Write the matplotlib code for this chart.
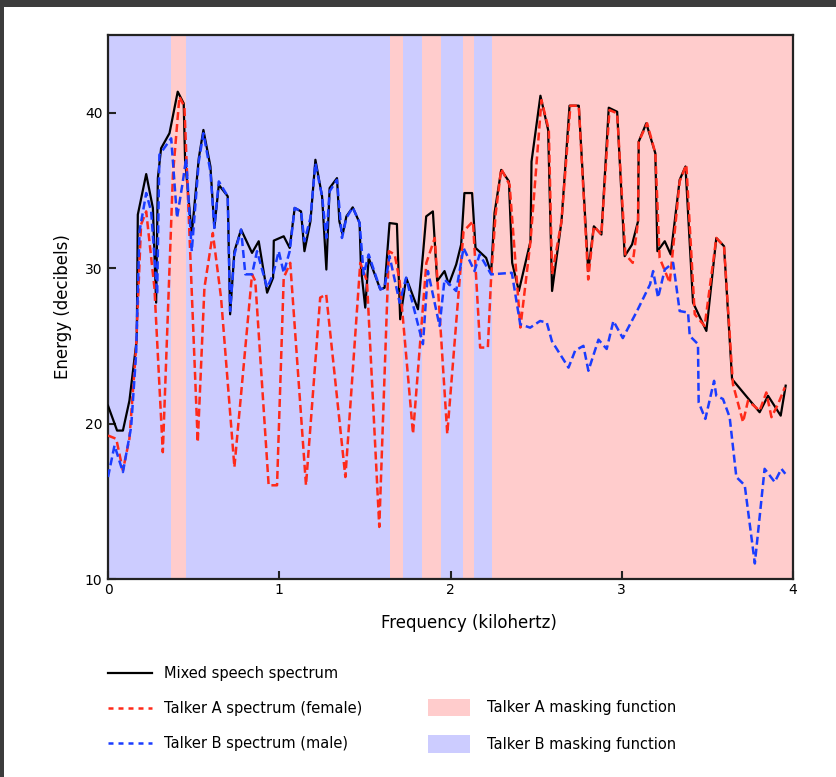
import numpy as np
import matplotlib.pyplot as plt
from matplotlib.patches import Rectangle, Patch
from matplotlib.lines import Line2D

# spectra (frequency in kHz, energy in dB)
freq_mix = [0.0, 0.053, 0.087, 0.125, 0.168, 0.174, 0.223, 0.262, 0.281, 0.291,
            0.31, 0.359, 0.407, 0.442, 0.45, 0.489, 0.53, 0.557, 0.598, 0.621,
            0.647, 0.699, 0.713, 0.738, 0.777, 0.841, 0.88, 0.929, 0.964, 0.968,
            1.026, 1.061, 1.09, 1.127, 1.147, 1.182, 1.211, 1.25, 1.275, 1.294,
            1.337, 1.351, 1.37, 1.392, 1.429, 1.469, 1.477, 1.502, 1.522, 1.59,
            1.615, 1.644, 1.687, 1.706, 1.741, 1.81, 1.839, 1.858, 1.897, 1.922,
            1.965, 1.99, 2.033, 2.062, 2.081, 2.126, 2.146, 2.208, 2.237, 2.257,
            2.296, 2.341, 2.36, 2.399, 2.467, 2.473, 2.525, 2.57, 2.593, 2.648,
            2.695, 2.749, 2.804, 2.837, 2.881, 2.924, 2.973, 3.017, 3.06, 3.095,
            3.099, 3.143, 3.196, 3.208, 3.251, 3.286, 3.338, 3.372, 3.416, 3.494,
            3.552, 3.597, 3.644, 3.805, 3.854, 3.928, 3.957]
mix_db = [21.15, 19.55, 19.55, 21.47, 25.43, 33.44, 36.05, 33.87, 27.78, 35.79,
          37.71, 38.68, 41.35, 40.6, 36.97, 32.16, 37.07, 38.89, 36.54, 32.59,
          35.36, 34.62, 27.03, 31.09, 32.48, 30.98, 31.73, 28.42, 29.38, 31.77,
          32.05, 31.3, 33.87, 33.65, 31.09, 33.01, 36.97, 34.62, 29.91, 35.15,
          35.79, 33.01, 32.16, 33.33, 33.91, 32.91, 30.02, 27.46, 30.66, 28.63,
          28.74, 32.9, 32.84, 26.71, 29.38, 27.35, 30.88, 33.33, 33.65, 29.17,
          29.81, 28.95, 30.23, 31.52, 34.83, 34.83, 31.3, 30.66, 29.7, 33.55,
          36.32, 35.58, 30.34, 28.53, 31.73, 36.86, 41.09, 38.89, 28.53, 33.01,
          40.45, 40.45, 29.81, 32.69, 32.16, 40.32, 40.06, 30.77, 31.52, 33.01,
          38.14, 39.32, 37.39, 31.09, 31.73, 30.88, 35.68, 36.54, 27.78, 25.96,
          31.94, 31.41, 22.86, 20.73, 21.79, 20.51, 22.44]

freq_a = [0.0, 0.048, 0.087, 0.125, 0.164, 0.193, 0.223, 0.271, 0.32, 0.379,
          0.417, 0.446, 0.524, 0.563, 0.612, 0.66, 0.738, 0.841, 0.86, 0.938,
          0.987, 1.026, 1.064, 1.156, 1.239, 1.274, 1.386, 1.473, 1.512, 1.584,
          1.64, 1.674, 1.703, 1.781, 1.859, 1.908, 1.981, 2.076, 2.131, 2.173,
          2.218, 2.237, 2.263, 2.296, 2.345, 2.408, 2.467, 2.531, 2.574, 2.593,
          2.648, 2.7, 2.749, 2.804, 2.837, 2.881, 2.928, 2.973, 3.021, 3.064,
          3.095, 3.099, 3.148, 3.196, 3.221, 3.28, 3.338, 3.377, 3.426, 3.484,
          3.552, 3.597, 3.649, 3.708, 3.737, 3.805, 3.844, 3.874, 3.913, 3.952]
a_db = [19.23, 19.02, 16.99, 19.02, 24.89, 32.8, 33.65, 28.74, 18.16, 36.0,
        41.03, 40.38, 18.8, 28.74, 32.26, 28.1, 17.2, 29.6, 29.17, 16.03,
        16.03, 29.38, 30.34, 16.03, 28.1, 28.31, 16.56, 30.34, 29.17, 13.35,
        31.09, 30.88, 29.17, 19.34, 30.34, 31.94, 19.34, 32.37, 33.01, 24.89,
        24.89, 29.38, 33.44, 36.39, 35.36, 26.18, 31.73, 40.81, 38.89, 29.6,
        33.01, 40.45, 40.45, 29.27, 32.69, 32.16, 40.17, 39.96, 30.88, 30.34,
        33.0, 38.14, 39.32, 37.39, 30.66, 29.06, 35.58, 36.65, 27.03, 26.28,
        31.94, 31.41, 22.54, 20.09, 21.47, 20.83, 22.0, 20.41, 21.26, 22.33]

freq_b = [0.0, 0.038, 0.087, 0.135, 0.164, 0.184, 0.223, 0.252, 0.287, 0.3,
          0.369, 0.403, 0.437, 0.456, 0.489, 0.53, 0.557, 0.598, 0.621, 0.647,
          0.699, 0.713, 0.738, 0.777, 0.802, 0.841, 0.87, 0.929, 0.964, 0.997,
          1.026, 1.061, 1.09, 1.127, 1.147, 1.182, 1.211, 1.25, 1.275, 1.294,
          1.337, 1.366, 1.392, 1.429, 1.469, 1.493, 1.522, 1.59, 1.615, 1.644,
          1.703, 1.741, 1.839, 1.868, 1.936, 1.965, 2.033, 2.076, 2.14, 2.17,
          2.237, 2.358, 2.407, 2.465, 2.523, 2.562, 2.592, 2.689, 2.728, 2.776,
          2.805, 2.864, 2.912, 2.951, 3.006, 3.089, 3.165, 3.183, 3.212, 3.251,
          3.3, 3.338, 3.387, 3.397, 3.445, 3.449, 3.488, 3.539, 3.552, 3.591,
          3.63, 3.669, 3.718, 3.777, 3.834, 3.893, 3.932, 3.955]
b_db = [16.56, 18.59, 16.88, 19.77, 24.47, 32.37, 34.83, 33.65, 28.31, 37.29,
        38.35, 33.23, 35.58, 37.07, 31.09, 36.86, 38.68, 36.22, 32.59, 35.58,
        34.62, 27.24, 30.88, 32.48, 29.6, 29.6, 31.09, 28.74, 29.6, 31.09,
        29.7, 31.09, 33.87, 33.65, 31.73, 33.23, 36.75, 34.62, 31.94, 34.94,
        35.68, 31.94, 33.23, 33.91, 32.91, 29.6, 30.88, 28.63, 28.74, 30.77,
        27.78, 29.38, 25.11, 29.81, 26.28, 29.27, 28.53, 31.3, 29.81, 30.88,
        29.6, 29.7, 26.39, 26.17, 26.6, 26.5, 25.3, 23.6, 24.7, 25.0,
        23.4, 25.4, 24.8, 26.6, 25.5, 27.24, 28.95, 29.81, 28.1, 29.91,
        30.34, 27.24, 27.14, 25.64, 25.11, 21.37, 20.3, 22.75, 21.79, 21.58,
        20.41, 16.56, 16.03, 11.0, 17.09, 16.24, 17.09, 16.77]

# masking function: which talker dominates each frequency band
mask_edges = [0.0, 0.37, 0.458, 1.644, 1.722, 1.833, 1.946, 2.07, 2.138, 2.245, 4.0]
mask_owner = ['B', 'A', 'B', 'A', 'B', 'A', 'B', 'A', 'B', 'A']

pink = '#ffcccc'
lavender = '#ccccff'
red = '#ff2a1a'
blue = '#1a3cff'

plt.rcParams['font.family'] = 'DejaVu Sans'
plt.rcParams['font.size'] = 10

fig = plt.figure(figsize=(8.36, 7.77), dpi=100)
ax = fig.add_axes([0.1292, 0.2548, 0.8194, 0.7002])

for i in range(len(mask_owner)):
    c = pink if mask_owner[i] == 'A' else lavender
    ax.axvspan(mask_edges[i], mask_edges[i + 1], color=c, lw=0, zorder=0)

ax.plot(freq_mix, mix_db, color='black', lw=1.6, zorder=3)
ax.plot(freq_a, a_db, color=red, lw=1.8, dashes=(3.2, 1.6), zorder=4)
ax.plot(freq_b, b_db, color=blue, lw=1.8, dashes=(3.2, 1.6), zorder=5)

ax.set_xlim(0, 4)
ax.set_ylim(10, 45)
ax.set_xticks([0, 1, 2, 3, 4])
ax.set_yticks([10, 20, 30, 40])
ax.tick_params(direction='in', length=6, width=1.5, color='#222222')
ax.tick_params(axis='x', pad=3)
ax.tick_params(axis='y', pad=4)
for s in ax.spines.values():
    s.set_linewidth(1.6)
    s.set_color('#222222')
ax.set_xlabel('Frequency (kilohertz)', fontsize=12, labelpad=11)
ax.xaxis.set_label_coords(0.527, -0.064)
ax.set_ylabel('Energy (decibels)', fontsize=12, labelpad=9)

# legend below the plot, two blocks
line_handles = [Line2D([], [], color='black', lw=1.6),
                Line2D([], [], color=red, lw=1.8, dashes=(2.0, 2.0)),
                Line2D([], [], color=blue, lw=1.8, dashes=(2.0, 2.0))]
line_labels = ['Mixed speech spectrum', 'Talker A spectrum (female)',
               'Talker B spectrum (male)']
leg1 = fig.legend(line_handles, line_labels, loc='upper left',
                  bbox_to_anchor=(108 / 836, 1 - 666 / 777), frameon=False,
                  borderpad=0, borderaxespad=0, handlelength=3.0,
                  handletextpad=0.85, labelspacing=1.38, fontsize=10.5)

patch_handles = [Patch(facecolor=pink, edgecolor='none'),
                 Patch(facecolor=lavender, edgecolor='none')]
patch_labels = ['Talker A masking function', 'Talker B masking function']
leg2 = fig.legend(patch_handles, patch_labels, loc='upper left',
                  bbox_to_anchor=(428 / 836, 1 - 699 / 777), frameon=False,
                  borderpad=0, borderaxespad=0, handlelength=2.9,
                  handleheight=1.45, handletextpad=1.15, labelspacing=1.3,
                  fontsize=10.5)

# dark frame visible at the top and left edge of the reference
fig.patches.append(Rectangle((0, 1 - 7 / 777), 1, 7 / 777, transform=fig.transFigure,
                             facecolor='#3c3c3c', edgecolor='none', zorder=10))
fig.patches.append(Rectangle((0, 0), 4 / 836, 1, transform=fig.transFigure,
                             facecolor='#3c3c3c', edgecolor='none', zorder=10))

plt.savefig('out.png', dpi=100)
